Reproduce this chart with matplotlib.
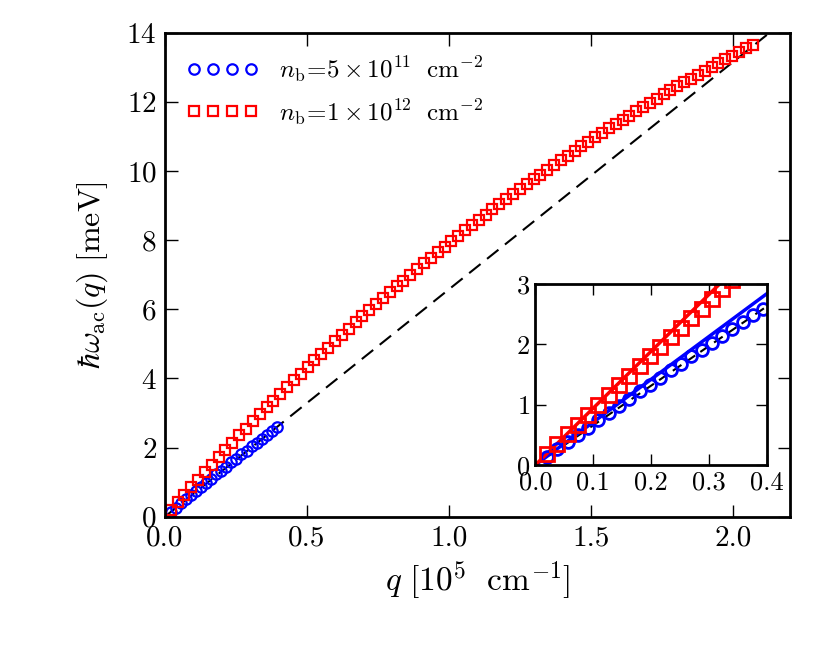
import numpy as np
import matplotlib
matplotlib.use('Agg')
import matplotlib.pyplot as plt

plt.rcParams['font.family'] = 'serif'
plt.rcParams['font.serif'] = ['cmr10', 'DejaVu Serif']
plt.rcParams['mathtext.fontset'] = 'cm'
plt.rcParams['axes.formatter.use_mathtext'] = True

# main panel data, n_b = 1e12 cm^-2
q_red = [0.020, 0.0441, 0.0682, 0.0923, 0.1164, 0.1405, 0.1646, 0.1887, 0.2128, 0.2369,
         0.261, 0.2851, 0.3092, 0.3333, 0.3574, 0.3815, 0.4056, 0.4297, 0.4538, 0.4779,
         0.502, 0.5261, 0.5502, 0.5743, 0.5984, 0.6225, 0.6466, 0.6707, 0.6948, 0.7189,
         0.743, 0.7671, 0.7912, 0.8153, 0.8394, 0.8635, 0.8876, 0.9117, 0.9358, 0.9599,
         0.984, 1.0081, 1.0322, 1.0563, 1.0804, 1.1045, 1.1286, 1.1527, 1.1768, 1.2009,
         1.225, 1.2491, 1.2732, 1.2973, 1.3214, 1.3455, 1.3696, 1.3937, 1.4178, 1.4419,
         1.466, 1.4901, 1.5142, 1.5383, 1.5624, 1.5865, 1.6106, 1.6347, 1.6588, 1.6829,
         1.707, 1.7311, 1.7552, 1.7793, 1.8034, 1.8275, 1.8516, 1.8757, 1.8998, 1.9239,
         1.948, 1.9721, 1.9962, 2.0203, 2.0444, 2.0685]
w_red = [0.19, 0.41, 0.63, 0.85, 1.07, 1.29, 1.50, 1.72, 1.93, 2.14,
         2.35, 2.55, 2.76, 2.96, 3.16, 3.36, 3.56, 3.75, 3.95, 4.14,
         4.33, 4.52, 4.71, 4.89, 5.08, 5.26, 5.44, 5.62, 5.80, 5.98,
         6.15, 6.32, 6.50, 6.67, 6.83, 7.00, 7.17, 7.33, 7.49, 7.66,
         7.81, 7.97, 8.13, 8.29, 8.44, 8.59, 8.74, 8.89, 9.04, 9.19,
         9.33, 9.48, 9.62, 9.76, 9.90, 10.04, 10.18, 10.32, 10.45, 10.59,
         10.72, 10.85, 10.98, 11.11, 11.24, 11.37, 11.49, 11.61, 11.74, 11.86,
         11.98, 12.10, 12.22, 12.34, 12.45, 12.57, 12.68, 12.79, 12.91, 13.02,
         13.13, 13.24, 13.34, 13.45, 13.56, 13.66]

# n_b = 5e11 cm^-2 (main and inset)
q_blue = [0.020, 0.0378, 0.0556, 0.0734, 0.0912, 0.109, 0.1268, 0.1446, 0.1624, 0.1802,
          0.198, 0.2158, 0.2336, 0.2514, 0.2692, 0.287, 0.3048, 0.3226, 0.3404, 0.3582,
          0.376, 0.3938]
w_blue = [0.14, 0.26, 0.38, 0.50, 0.62, 0.74, 0.86, 0.98, 1.10, 1.22,
          1.33, 1.45, 1.57, 1.68, 1.80, 1.91, 2.03, 2.14, 2.26, 2.37,
          2.48, 2.59]

# inset red points, finer q grid
q_red_in = q_blue[:19]
w_red_in = [0.18, 0.35, 0.51, 0.67, 0.83, 1.00, 1.16, 1.32, 1.48, 1.64,
            1.80, 1.96, 2.12, 2.27, 2.43, 2.59, 2.75, 2.91, 3.06]

# straight lines: v_F q (dashed) and small-q fits (inset)
q_line = [0.0, 2.2]
w_vf = [0.0, 14.48]
q_fit = [0.0, 0.4]
w_vf_in = [0.0, 2.63]
w_fit_blue = [0.0, 2.84]
w_fit_red = [0.0, 3.77]

fig = plt.figure(figsize=(8.3, 6.46), dpi=100)
ax = fig.add_axes([0.1988, 0.2003, 0.753, 0.7487])

ax.plot(q_line, w_vf, 'k--', lw=1.5, dashes=(7, 4))
ax.plot(q_blue, w_blue, 'o', mfc='none', mec='b', mew=1.6, ms=7.5,
        label=r'$n_{\mathrm{b}}\!=\!5\times10^{11}\ \ \mathrm{cm}^{-2}$')
ax.plot(q_red, w_red, 's', mfc='none', mec='r', mew=1.6, ms=7.5,
        label=r'$n_{\mathrm{b}}\!=\!1\times10^{12}\ \ \mathrm{cm}^{-2}$')

ax.set_xlim(0, 2.2)
ax.set_ylim(0, 14)
ax.set_xticks([0.0, 0.5, 1.0, 1.5, 2.0])
ax.set_xticklabels(['0.0', '0.5', '1.0', '1.5', '2.0'])
ax.set_yticks([0, 2, 4, 6, 8, 10, 12, 14])
ax.tick_params(direction='in', top=True, right=True, length=9, width=1, labelsize=21, pad=6)
for s in ax.spines.values():
    s.set_linewidth(2)
ax.set_xlabel(r'$q\ [10^5\ \ \mathrm{cm}^{-1}]$', fontsize=24, labelpad=6)
ax.set_ylabel(r'$\hbar\omega_{\mathrm{ac}}(q)\ [\mathrm{meV}]$', fontsize=23, labelpad=12)
ax.legend(loc='upper left', numpoints=4, frameon=False, fontsize=18,
          handlelength=2.9, handletextpad=0.8, borderaxespad=0.45, labelspacing=0.5)

ins = fig.add_axes([0.645, 0.2802, 0.279, 0.2802])
ins.plot(q_fit, w_vf_in, 'k--', lw=1.5, dashes=(5, 3))
ins.plot(q_fit, w_fit_blue, 'b-', lw=2.5)
ins.plot(q_fit, w_fit_red, 'r-', lw=2.5)
ins.plot(q_blue, w_blue, 'o', mfc='none', mec='b', mew=2, ms=8.5)
ins.plot(q_red_in, w_red_in, 's', mfc='none', mec='r', mew=2, ms=9.5)
ins.set_xlim(0, 0.4)
ins.set_ylim(0, 3)
ins.set_xticks([0.0, 0.1, 0.2, 0.3, 0.4])
ins.set_xticklabels(['0.0', '0.1', '0.2', '0.3', '0.4'])
ins.set_yticks([0, 1, 2, 3])
ins.tick_params(direction='in', top=True, right=True, length=8, width=1, labelsize=19, pad=4)
for s in ins.spines.values():
    s.set_linewidth(2)

fig.savefig('out.png', dpi=100)
